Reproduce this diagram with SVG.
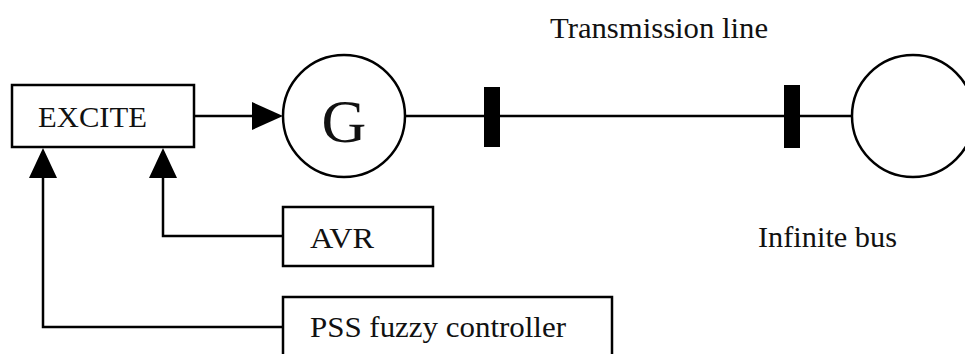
<svg xmlns="http://www.w3.org/2000/svg" width="965" height="354" viewBox="0 0 965 354">
<style>
.box{fill:#fff;stroke:#000;stroke-width:2.5}
.circ{fill:#fff;stroke:#000;stroke-width:2.5}
.lbl{font-family:"Liberation Serif","Times New Roman",serif;font-size:30px;fill:#111}
.wire{fill:none;stroke:#000;stroke-width:2.5}
.bar{fill:#000}
.ah{fill:#000}
</style>
<rect width="965" height="354" fill="#fff"/>
<g id="connectors">
<line class="wire" x1="194" y1="116" x2="254" y2="116"/>
<polygon class="ah" points="252,102 283,116 252,130"/>
<line class="wire" x1="405" y1="116" x2="852" y2="116" stroke-width="2"/>
<polyline class="wire" points="283,236 163,236 163,176" stroke-width="3"/>
<polygon class="ah" points="149,178 163,148 177,178"/>
<polyline class="wire" points="283,327 43,327 43,176" stroke-width="3"/>
<polygon class="ah" points="29,178 43,148 57,178"/>
</g>
<g id="excite">
<rect class="box" x="12" y="85" width="182" height="62"/>
<text class="lbl" x="38" y="127" textLength="109" lengthAdjust="spacingAndGlyphs">EXCITE</text>
</g>
<g id="generator">
<circle class="circ" cx="344" cy="116" r="61"/>
<text x="344" y="142" text-anchor="middle" font-family="Liberation Serif, Times New Roman, serif" font-size="62" fill="#111">G</text>
</g>
<g id="bus1"><rect class="bar" x="484" y="87" width="16" height="60"/></g>
<g id="bus2"><rect class="bar" x="784" y="85" width="16" height="63"/></g>
<g id="transmission-line-label">
<text class="lbl" x="550" y="38" textLength="218" lengthAdjust="spacingAndGlyphs">Transmission line</text>
</g>
<g id="infinite-bus">
<circle class="circ" cx="913" cy="116" r="61"/>
<text class="lbl" x="758" y="247" textLength="139" lengthAdjust="spacingAndGlyphs">Infinite bus</text>
</g>
<g id="avr">
<rect class="box" x="283" y="207" width="150" height="59"/>
<text class="lbl" x="310" y="248" textLength="64" lengthAdjust="spacingAndGlyphs">AVR</text>
</g>
<g id="pss">
<rect class="box" x="283" y="297" width="329" height="70"/>
<text class="lbl" x="310" y="337" textLength="256" lengthAdjust="spacingAndGlyphs">PSS fuzzy controller</text>
</g>
</svg>
